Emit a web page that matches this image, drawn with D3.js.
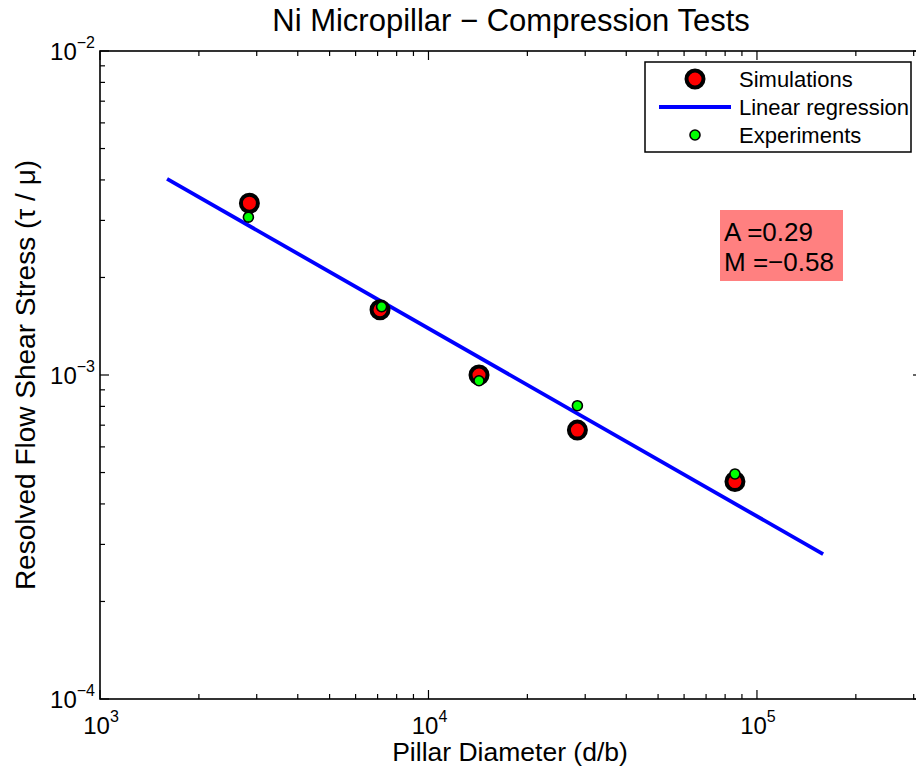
<!DOCTYPE html>
<html lang="en">
<head>
    <meta charset="UTF-8">
    <title>Ni Micropillar - Compression Tests</title>
    <script src="https://d3js.org/d3.v7.min.js"></script>
    <style>
        body { margin: 0; background: #fff; }
        svg { font-family: "Liberation Sans", Arial, sans-serif; }
    </style>
</head>
<body>
    <div id="chart"></div>
    <script>
        // data
        var simDiameter = [2850, 7120, 14250, 28400, 85700];
        var simStress = [3.39e-3, 1.59e-3, 1.0e-3, 6.76e-4, 4.69e-4];
        var expDiameter = [2830, 7200, 14250, 28400, 85700];
        var expStress = [3.07e-3, 1.625e-3, 9.6e-4, 8.04e-4, 4.95e-4];
        var fitDiameter = [1600, 159000];
        var fitStress = [4.03e-3, 2.80e-4];
        var fitText = ["A =0.29", "M =\u22120.58"];
        var xDecades = [3, 4, 5];
        var yDecades = [-2, -3, -4];

        var W = 916, H = 773;
        var m = {left: 100, right: 922, top: 51, bottom: 699};
        var xMax = 3.18e5;

        var svg = d3.select("#chart").append("svg")
            .attr("width", W)
            .attr("height", H);

        var x = d3.scaleLog().domain([1e3, xMax]).range([m.left, m.right]);
        var y = d3.scaleLog().domain([1e-4, 1e-2]).range([m.bottom, m.top]);

        // tick positions: majors at decades, minors 2..9
        var xMinor = [], yMinor = [];
        [3, 4, 5].forEach(function (e) {
            for (var k = 2; k <= 9; k++) {
                var v = k * Math.pow(10, e);
                if (v <= xMax) xMinor.push(v);
            }
        });
        [-4, -3].forEach(function (e) {
            for (var k = 2; k <= 9; k++) yMinor.push(k * Math.pow(10, e));
        });

        var ticks = svg.append("g").attr("stroke", "#000").attr("stroke-width", 1.2);
        function xTick(v, len) {
            ticks.append("line").attr("x1", x(v)).attr("x2", x(v)).attr("y1", m.bottom).attr("y2", m.bottom - len);
            ticks.append("line").attr("x1", x(v)).attr("x2", x(v)).attr("y1", m.top).attr("y2", m.top + len);
        }
        function yTick(v, len) {
            ticks.append("line").attr("y1", y(v)).attr("y2", y(v)).attr("x1", m.left).attr("x2", m.left + len);
            ticks.append("line").attr("y1", y(v)).attr("y2", y(v)).attr("x1", m.right).attr("x2", m.right - len);
        }
        xMinor.forEach(function (v) { xTick(v, 5); });
        xDecades.forEach(function (e) { xTick(Math.pow(10, e), 9); });
        yMinor.forEach(function (v) { yTick(v, 5); });
        yDecades.forEach(function (e) { yTick(Math.pow(10, e), 9); });

        // axes box
        svg.append("rect")
            .attr("x", m.left).attr("y", m.top)
            .attr("width", m.right - m.left).attr("height", m.bottom - m.top)
            .attr("fill", "none").attr("stroke", "#000").attr("stroke-width", 1.6);

        // tick labels
        xDecades.forEach(function (e) {
            var t = svg.append("text")
                .attr("x", x(Math.pow(10, e)) + 1)
                .attr("y", 734)
                .attr("text-anchor", "middle")
                .attr("font-size", 24);
            t.append("tspan").text("10");
            t.append("tspan").attr("font-size", 16).attr("dy", -12).text(String(e));
        });
        yDecades.forEach(function (e) {
            var t = svg.append("text")
                .attr("x", 95)
                .attr("y", y(Math.pow(10, e)) + 9)
                .attr("text-anchor", "end")
                .attr("font-size", 24);
            t.append("tspan").text("10");
            t.append("tspan").attr("font-size", 16).attr("dy", -12).text("\u2212" + Math.abs(e));
        });

        // regression line
        var line = d3.line()
            .x(function (d) { return x(d[0]); })
            .y(function (d) { return y(d[1]); });
        svg.append("path")
            .datum(d3.zip(fitDiameter, fitStress))
            .attr("d", line)
            .attr("fill", "none")
            .attr("stroke", "#0000ff")
            .attr("stroke-width", 3.8);

        // simulations
        svg.append("g").selectAll("circle")
            .data(d3.zip(simDiameter, simStress))
            .enter().append("circle")
            .attr("cx", function (d) { return x(d[0]); })
            .attr("cy", function (d) { return y(d[1]); })
            .attr("r", 8.5)
            .attr("fill", "#ff0000")
            .attr("stroke", "#000")
            .attr("stroke-width", 4);

        // experiments
        svg.append("g").selectAll("circle")
            .data(d3.zip(expDiameter, expStress))
            .enter().append("circle")
            .attr("cx", function (d) { return x(d[0]); })
            .attr("cy", function (d) { return y(d[1]); })
            .attr("r", 5)
            .attr("fill", "#00ff00")
            .attr("stroke", "#000")
            .attr("stroke-width", 1.6);

        // fit annotation
        svg.append("rect")
            .attr("x", 720).attr("y", 210)
            .attr("width", 123).attr("height", 71)
            .attr("fill", "#ff8080");
        fitText.forEach(function (s, i) {
            svg.append("text")
                .attr("x", 724)
                .attr("y", 241 + i * 30)
                .attr("font-size", 26)
                .text(s);
        });

        // legend
        var lg = svg.append("g");
        lg.append("rect")
            .attr("x", 645).attr("y", 62)
            .attr("width", 266).attr("height", 90)
            .attr("fill", "#fff").attr("stroke", "#000").attr("stroke-width", 1.5);
        lg.append("circle").attr("cx", 695).attr("cy", 79).attr("r", 8.5)
            .attr("fill", "#ff0000").attr("stroke", "#000").attr("stroke-width", 4);
        lg.append("line").attr("x1", 659).attr("x2", 731).attr("y1", 107).attr("y2", 107)
            .attr("stroke", "#0000ff").attr("stroke-width", 3.8);
        lg.append("circle").attr("cx", 695).attr("cy", 135).attr("r", 5)
            .attr("fill", "#00ff00").attr("stroke", "#000").attr("stroke-width", 1.6);
        ["Simulations", "Linear regression", "Experiments"].forEach(function (s, i) {
            lg.append("text")
                .attr("x", 739)
                .attr("y", 87 + i * 28)
                .attr("font-size", 22)
                .text(s);
        });

        // title and axis labels
        svg.append("text")
            .attr("x", 511)
            .attr("y", 31)
            .attr("text-anchor", "middle")
            .attr("font-size", 31)
            .text("Ni Micropillar \u2212 Compression Tests");

        svg.append("text")
            .attr("x", 510)
            .attr("y", 761)
            .attr("text-anchor", "middle")
            .attr("font-size", 26.5)
            .text("Pillar Diameter (d/b)");

        svg.append("text")
            .attr("transform", "translate(35," + (m.top + m.bottom) / 2 + ") rotate(-90)")
            .attr("text-anchor", "middle")
            .attr("font-size", 28)
            .text("Resolved Flow Shear Stress (\u03c4 / \u03bc)");
    </script>
</body>
</html>
